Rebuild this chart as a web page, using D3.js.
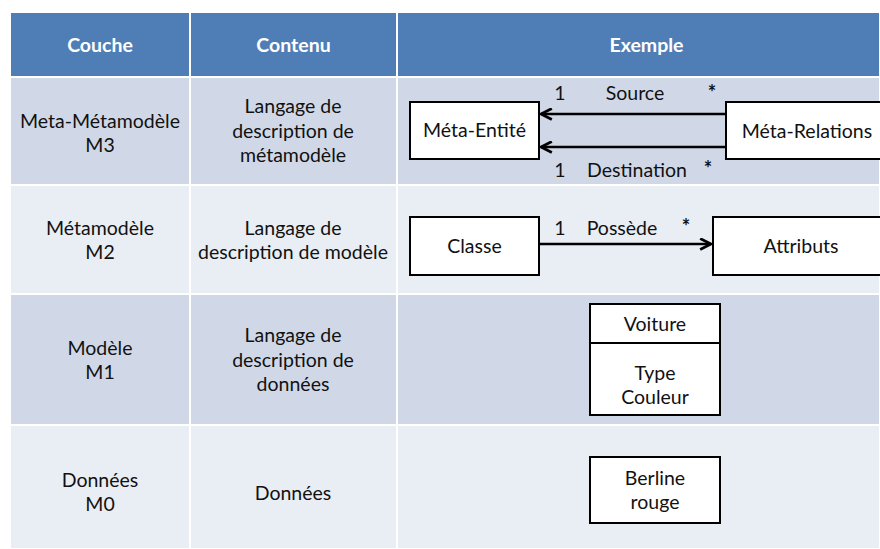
<!DOCTYPE html>
<html><head><meta charset="utf-8">
<script src="https://cdn.jsdelivr.net/npm/d3@7/dist/d3.min.js"></script>
<style>body{margin:0;background:#fff}svg{display:block}text{font-family:Lato,"Open Sans",sans-serif}</style>
</head><body><svg id="c" width="880" height="549"></svg>
<script>
const headers = ["Couche", "Contenu", "Exemple"];
const couches = [["Meta-Métamodèle", "M3"], ["Métamodèle", "M2"], ["Modèle", "M1"], ["Données", "M0"]];
const contenus = [["Langage de", "description de", "métamodèle"], ["Langage de", "description de modèle"], ["Langage de", "description de", "données"], ["Données"]];
const m3Boxes = ["Méta-Entité", "Méta-Relations"];
const m3Links = [["1", "Source", "*"], ["1", "Destination", "*"]];
const m2Boxes = ["Classe", "Attributs"];
const m2Link = ["1", "Possède", "*"];
const m1Class = ["Voiture"];
const m1Attrs = ["Type", "Couleur"];
const m0Object = ["Berline", "rouge"];

const svg = d3.select("#c");
const FS = 19.5, LH = 24.5;
const colX = [10, 190, 397, 880];
const rowY = [12, 77, 185, 294, 425, 549];
const rowFill = ["#4f7eb7", "#d0d8e8", "#e9edf4", "#d0d8e8", "#e9edf4"];
const g = svg.append("g");

for (let r = 0; r < 5; r++) {
  for (let c = 0; c < 3; c++) {
    g.append("rect").attr("x", colX[c]).attr("y", rowY[r])
      .attr("width", colX[c+1]-colX[c]).attr("height", rowY[r+1]-rowY[r])
      .attr("fill", rowFill[r]).attr("stroke", "#fff").attr("stroke-width", 2);
  }
}
function lines(arr, cx, cy, opts={}) {
  const n = arr.length;
  arr.forEach((t, i) => {
    svg.append("text").attr("x", cx).attr("y", cy + (i - (n-1)/2) * LH)
      .attr("dy", "0.35em").attr("text-anchor", opts.anchor || "middle")
      .attr("font-size", opts.fs || FS).attr("font-weight", opts.bold ? "bold" : "normal")
      .attr("fill", opts.fill || "#111").text(t);
  });
}
headers.forEach((h, i) => lines([h], (colX[i]+colX[i+1])/2 + (i===2? 8:0), 45, {bold:true, fill:"#fff"}));
const c1 = [133, 240, 360, 492];
couches.forEach((a, i) => lines(a, 100, c1[i]));
const c2 = [131, 240, 360, 493];
contenus.forEach((a, i) => lines(a, 293, c2[i]));

const defs = svg.append("defs");
defs.append("marker").attr("id", "arr").attr("viewBox", "0 0 12 12").attr("refX", 11).attr("refY", 6)
  .attr("markerWidth", 13).attr("markerHeight", 13).attr("markerUnits", "userSpaceOnUse").attr("orient", "auto")
  .append("path").attr("d", "M1,1 L11,6 L1,11").attr("fill", "none").attr("stroke", "#000").attr("stroke-width", 2.6);

function box(x, y, w, h, text) {
  svg.append("rect").attr("x", x).attr("y", y).attr("width", w).attr("height", h)
    .attr("fill", "#fff").attr("stroke", "#000").attr("stroke-width", 2);
  if (text) lines(text, x + w/2, y + h/2);
}
function arrow(x1, y1, x2, y2) {
  svg.append("line").attr("x1", x1).attr("y1", y1).attr("x2", x2).attr("y2", y2)
    .attr("stroke", "#000").attr("stroke-width", 2.6).attr("marker-end", "url(#arr)");
}
const star = {bold:true, fs:20};
box(410, 102, 129, 57, [m3Boxes[0]]);
box(726, 102, 160, 57, null);
lines([m3Boxes[1]], 807, 131);
arrow(726, 114, 541, 114);
arrow(726, 147, 541, 147);
lines([m3Links[0][0]], 560, 93); lines([m3Links[0][1]], 635, 93); lines([m3Links[0][2]], 712, 93, star);
lines([m3Links[1][0]], 560, 170); lines([m3Links[1][1]], 637, 170); lines([m3Links[1][2]], 708, 169, star);
box(410, 217, 129, 58, [m2Boxes[0]]);
box(713, 217, 170, 58, null);
lines([m2Boxes[1]], 801, 246);
arrow(539, 244, 711, 244);
lines([m2Link[0]], 560, 228); lines([m2Link[1]], 622, 228); lines([m2Link[2]], 686, 227, star);
box(590, 304, 130, 111, null);
svg.append("line").attr("x1", 590).attr("x2", 720).attr("y1", 343).attr("y2", 343).attr("stroke", "#000").attr("stroke-width", 2);
lines(m1Class, 655, 324);
lines(m1Attrs, 655, 385);
box(590, 457, 130, 66, m0Object);
</script></body></html>
